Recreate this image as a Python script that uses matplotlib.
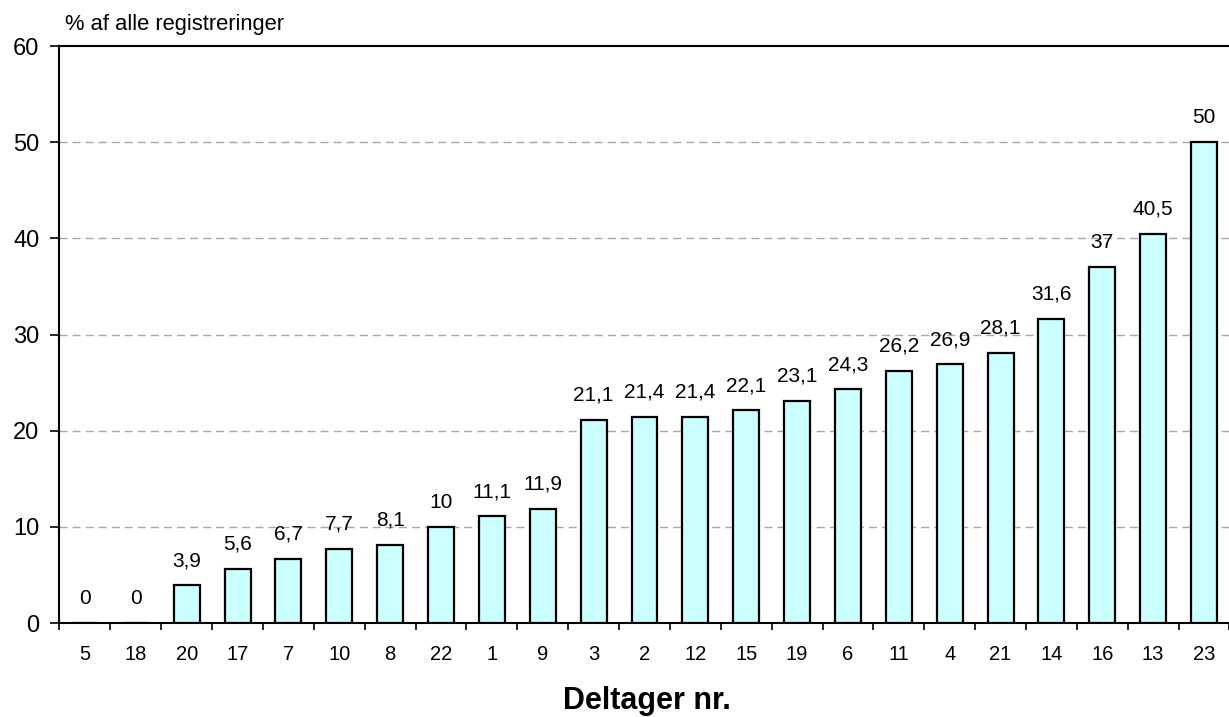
import numpy as np
import matplotlib.pyplot as plt

plt.rcParams["font.family"] = ["Liberation Sans", "DejaVu Sans"]

# Deltagere sorteret efter andel
deltagere = ["5", "18", "20", "17", "7", "10", "8", "22", "1", "9", "3", "2",
             "12", "15", "19", "6", "11", "4", "21", "14", "16", "13", "23"]
procent = [0, 0, 3.9, 5.6, 6.7, 7.7, 8.1, 10, 11.1, 11.9, 21.1, 21.4,
           21.4, 22.1, 23.1, 24.3, 26.2, 26.9, 28.1, 31.6, 37, 40.5, 50]

fig = plt.figure(figsize=(12.29, 7.17), dpi=100)
ax = fig.add_axes([0.0484, 0.1311, 0.952, 0.8047])

x = np.arange(len(deltagere))
ax.bar(x, procent, width=0.51, color="#CCFFFF", edgecolor="black",
       linewidth=1.6, zorder=3)

# Værdier over søjlerne med dansk decimalkomma
for xi, v in zip(x, procent):
    txt = f"{v:g}".replace(".", ",")
    ax.text(xi, v + 2.0, txt, ha="center", va="baseline", fontsize=15)

ax.set_xlim(-0.5, len(deltagere) - 0.5)
ax.set_ylim(0, 60)
ax.set_yticks(range(0, 61, 10))
ax.tick_params(axis="y", labelsize=17, length=6.5, width=1.2, pad=8,
               direction="out")

ax.set_xticks(x)
ax.set_xticklabels(deltagere, fontsize=14.5)
ax.tick_params(axis="x", length=0, pad=16)
ax.set_xticks(np.arange(-0.5, len(deltagere), 1), minor=True)
ax.tick_params(axis="x", which="minor", length=5, width=1.2, direction="out")

for y in range(10, 60, 10):
    ax.axhline(y, color="#A8A8A8", linestyle=(0, (5.8, 3.6)), linewidth=1.0,
               zorder=1)

for side in ["left", "bottom", "top"]:
    ax.spines[side].set_linewidth(1.5)
ax.spines["right"].set_visible(False)

fig.text(0.053, 0.966, "% af alle registreringer", fontsize=15.8, va="center")
fig.text(0.526, 0.022, "Deltager nr.", fontsize=22, fontweight="bold",
         ha="center", va="center")

fig.savefig("out.png", dpi=100)
